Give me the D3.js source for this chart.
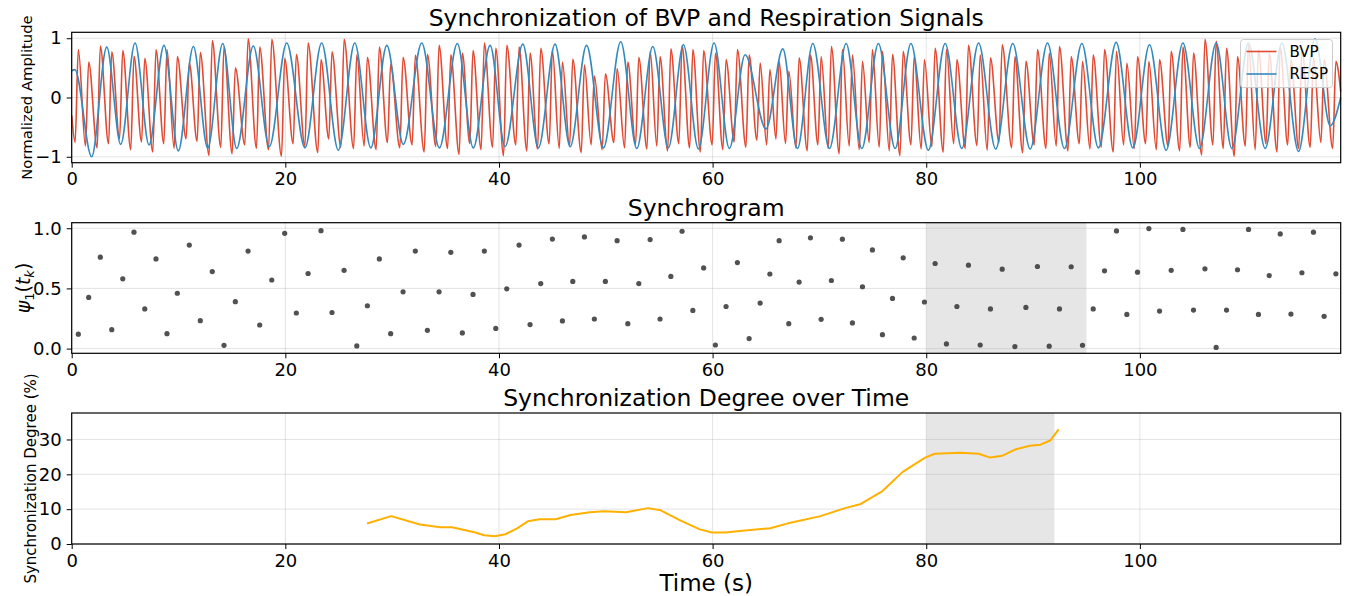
<!DOCTYPE html>
<html lang="en">
<head>
<meta charset="utf-8">
<title>BVP / respiration synchronization</title>
<script src="https://d3js.org/d3.v7.min.js"></script>
<style>
  body { margin: 0; background: #fff; }
  svg { font-family: "DejaVu Sans", sans-serif; }
  .grid line { stroke: #b0b0b0; stroke-opacity: 0.35; stroke-width: 1; }
  .axis path { display: none; }
  .axis line { stroke: #000; }
  .axis text { font-size: 18px; fill: #000; font-family: "DejaVu Sans", sans-serif; }
</style>
</head>
<body>
<svg id="chart" width="1346" height="596"></svg>
<script>
// ---- data ----
var xTicks = [0, 20, 40, 60, 80, 100];
var sigTicks = [-1, 0, 1];
var syncTicks = [0, 0.5, 1];
var degTicks = [0, 10, 20, 30];
var seriesNames = ["BVP", "RESP"];

// BVP beats (peak times = synchrogram instants t_k)
var bvpPeakT = [0.62, 1.59, 2.68, 3.75, 4.78, 5.83, 6.84, 7.89, 8.92, 9.89,
  11.01, 12.04, 13.16, 14.26, 15.32, 16.51, 17.6, 18.73, 19.94, 21.03,
  22.13, 23.34, 24.37, 25.5, 26.69, 27.68, 28.8, 29.86, 31.02, 32.17,
  33.3, 34.39, 35.49, 36.57, 37.57, 38.63, 39.7, 40.73, 41.88, 42.91,
  43.91, 45.0, 45.94, 46.91, 48.0, 48.93, 49.96, 51.06, 52.06, 53.09,
  54.15, 55.08, 56.09, 57.14, 58.15, 59.16, 60.26, 61.26, 62.32, 63.42,
  64.45, 65.36, 66.23, 67.13, 68.1, 69.16, 70.16, 71.12, 72.15, 73.09,
  74.03, 74.96, 75.9, 76.84, 77.84, 78.87, 79.83, 80.83, 81.89, 82.87,
  83.95, 85.05, 86.01, 87.11, 88.3, 89.33, 90.41, 91.51, 92.47, 93.57,
  94.63, 95.63, 96.69, 97.81, 98.78, 99.78, 100.84, 101.84, 102.93, 104.03,
  105.02, 106.09, 107.14, 108.11, 109.14, 110.17, 111.1, 112.11, 113.14, 114.14,
  115.17, 116.25, 117.25, 118.35];
var bvpPeakV = [0.81, 0.60, 0.87, 0.77, 0.79, 0.70, 0.66, 0.81, 0.81, 0.69,
  0.58, 0.76, 0.96, 0.86, 0.50, 0.99, 0.85, 0.98, 0.66, 0.73,
  0.92, 0.64, 0.77, 0.98, 0.72, 0.68, 0.85, 0.56, 0.68, 0.71,
  0.73, 0.88, 0.72, 0.75, 0.79, 0.92, 0.83, 0.88, 0.85, 0.75,
  0.83, 0.80, 0.60, 0.65, 0.55, 0.36, 0.40, 0.49, 0.60, 0.68,
  0.78, 0.69, 0.82, 0.88, 0.81, 0.79, 0.75, 0.64, 0.81, 0.72,
  0.58, 0.47, 0.61, 0.44, 0.67, 0.72, 0.69, 0.86, 0.81, 0.72,
  0.61, 0.81, 0.78, 0.73, 0.78, 0.69, 0.64, 0.83, 0.81, 0.64,
  0.88, 0.72, 0.67, 0.89, 0.69, 0.61, 0.81, 0.75, 0.86, 0.69,
  0.61, 0.72, 0.81, 0.78, 0.58, 0.69, 0.61, 0.64, 0.78, 0.85,
  0.75, 0.98, 0.95, 0.83, 0.69, 0.89, 0.80, 0.75, 0.85, 0.64,
  0.83, 0.67, 0.64, 0.61];
var bvpTroughT = [0.32, 1.29, 2.38, 3.45, 4.48, 5.53, 6.54, 7.59, 8.62, 9.59,
  10.71, 11.74, 12.86, 13.96, 15.02, 16.21, 17.3, 18.43, 19.64, 20.73,
  21.83, 23.04, 24.07, 25.2, 26.39, 27.38, 28.5, 29.56, 30.72, 31.87,
  33.0, 34.09, 35.19, 36.27, 37.27, 38.33, 39.4, 40.43, 41.58, 42.61,
  43.61, 44.7, 45.64, 46.61, 47.7, 48.63, 49.66, 50.76, 51.76, 52.79,
  53.85, 54.78, 55.79, 56.84, 57.85, 58.86, 59.96, 60.96, 62.02, 63.12,
  64.15, 65.06, 65.93, 66.83, 67.8, 68.86, 69.86, 70.82, 71.85, 72.79,
  73.73, 74.66, 75.6, 76.54, 77.54, 78.57, 79.53, 80.53, 81.59, 82.57,
  83.65, 84.75, 85.71, 86.81, 88.0, 89.03, 90.11, 91.21, 92.17, 93.27,
  94.33, 95.33, 96.39, 97.51, 98.48, 99.48, 100.54, 101.54, 102.63, 103.73,
  104.72, 105.79, 106.84, 107.81, 108.84, 109.87, 110.8, 111.81, 112.84, 113.84,
  114.87, 115.95, 116.95, 118.05];
var bvpTroughV = [-0.76, -0.82, -0.85, -0.78, -0.70, -0.88, -0.75, -0.92, -0.78, -0.86,
  -0.70, -0.74, -0.98, -0.84, -0.95, -0.80, -0.86, -0.88, -0.99, -0.78,
  -0.83, -0.93, -0.70, -0.84, -0.86, -0.82, -0.88, -0.76, -0.85, -0.80,
  -0.92, -0.83, -0.86, -0.96, -0.78, -0.88, -0.84, -0.98, -0.80, -0.90,
  -0.87, -0.78, -0.86, -0.82, -0.93, -0.80, -0.88, -0.76, -0.85, -0.79,
  -0.87, -0.82, -0.90, -0.78, -0.85, -0.92, -0.80, -0.88, -0.75, -0.84,
  -0.72, -0.80, -0.70, -0.78, -0.85, -0.90, -0.80, -0.86, -0.95, -0.82,
  -0.88, -0.76, -0.84, -0.90, -0.98, -0.80, -0.87, -0.83, -0.92, -0.78,
  -0.86, -0.81, -0.89, -0.76, -0.85, -0.93, -0.80, -0.86, -0.82, -0.90,
  -0.78, -0.87, -0.84, -0.92, -0.80, -0.86, -0.78, -0.88, -0.82, -0.90,
  -0.84, -0.97, -0.80, -0.86, -0.99, -0.82, -0.88, -0.78, -0.92, -0.80,
  -0.86, -0.84, -0.76, -0.86];
var bvpStart = [0, -0.30];
var bvpEnd = [118.8, 0.10];

// respiration extrema [t, value]
var respPts = [[0, 0.45], [0.3, 0.47], [1.87, -1.0], [3.28, 0.85], [4.59, -0.79],
  [5.93, 0.92], [7.24, -0.80], [8.64, 0.88], [9.98, -0.90], [11.39, 0.86],
  [12.73, -0.85], [14.14, 0.91], [15.45, -0.86], [17.0, 0.87], [18.5, -0.83],
  [20.13, 0.92], [21.84, -0.85], [23.4, 0.92], [24.96, -0.89], [26.5, 0.92],
  [28.0, -0.85], [29.5, 0.88], [31.05, -0.79], [32.77, 0.92], [34.42, -0.85],
  [36.1, 0.91], [37.6, -0.85], [39.17, 0.88], [40.57, -0.83], [42.23, 0.90],
  [43.69, -0.85], [45.25, 0.90], [46.66, -0.83], [48.2, 0.88], [49.78, -0.85],
  [51.4, 0.94], [52.9, -0.86], [54.4, 0.86], [55.86, -0.85], [57.27, 0.89],
  [58.67, -0.87], [60.14, 0.92], [61.57, -0.86], [63.04, 0.72], [65.0, -0.53],
  [66.57, 0.82], [67.94, -0.86], [69.38, 0.91], [70.94, -0.86], [72.5, 0.91],
  [73.97, -0.86], [75.52, 0.91], [77.09, -0.86], [78.56, 0.91], [80.2, -0.89],
  [81.77, 0.91], [83.33, -0.86], [84.9, 0.92], [86.5, -0.87], [88.1, 0.91],
  [89.73, -0.87], [91.35, 0.92], [92.94, -0.86], [94.57, 0.91], [96.12, -0.85],
  [97.78, 0.93], [99.34, -0.85], [100.9, 0.89], [102.46, -0.89], [104.03, 0.92],
  [105.58, -0.86], [107.14, 0.92], [108.61, -0.86], [110.17, 0.92], [111.73, -0.86],
  [113.3, 0.92], [114.85, -0.91], [116.4, 0.99], [117.82, -0.48], [118.8, 0.0]];

// synchrogram psi_1(t_k) at each beat
var syncPsi = [0.12, 0.425, 0.76, 0.157, 0.58, 0.967, 0.33, 0.745, 0.124, 0.46,
  0.86, 0.232, 0.64, 0.027, 0.39, 0.81, 0.196, 0.57, 0.958, 0.296,
  0.624, 0.98, 0.30, 0.65, 0.022, 0.356, 0.745, 0.124, 0.472, 0.81,
  0.152, 0.472, 0.80, 0.13, 0.45, 0.81, 0.168, 0.497, 0.86, 0.20,
  0.54, 0.91, 0.23, 0.558, 0.928, 0.246, 0.558, 0.897, 0.207, 0.54,
  0.906, 0.246, 0.60, 0.975, 0.317, 0.67, 0.03, 0.35, 0.715, 0.083,
  0.378, 0.62, 0.897, 0.207, 0.553, 0.92, 0.243, 0.566, 0.909, 0.213,
  0.514, 0.82, 0.116, 0.417, 0.754, 0.088, 0.387, 0.707, 0.039, 0.35,
  0.693, 0.03, 0.33, 0.66, 0.017, 0.342, 0.682, 0.02, 0.33, 0.68,
  0.028, 0.33, 0.646, 0.978, 0.284, 0.635, 0.997, 0.312, 0.65, 0.99,
  0.32, 0.663, 0.01, 0.32, 0.655, 0.99, 0.284, 0.607, 0.953, 0.287,
  0.63, 0.967, 0.268, 0.621];

// synchronization degree (%)
var degT = [27.65, 29.9, 32.6, 34.5, 35.6, 37.8, 38.6, 39.6, 40.6, 41.7,
  42.7, 43.8, 45.3, 46.7, 48.5, 49.8, 51.9, 53.96, 55.1, 56.96,
  58.8, 59.95, 61.2, 63.0, 65.4, 67.4, 70.1, 72.4, 73.8, 75.9,
  77.8, 79.9, 80.8, 83.2, 84.9, 86.0, 87.1, 88.3, 89.7, 90.7,
  91.6, 92.4];
var degV = [5.9, 8.0, 5.6, 4.8, 4.8, 3.3, 2.5, 2.2, 2.8, 4.5,
  6.5, 7.1, 7.1, 8.3, 9.1, 9.4, 9.1, 10.3, 9.7, 6.8,
  4.2, 3.3, 3.3, 3.9, 4.5, 6.2, 8.0, 10.3, 11.4, 15.2,
  20.7, 24.8, 25.9, 26.2, 25.9, 24.8, 25.3, 27.1, 28.2, 28.5,
  29.7, 32.9];

var syncSpan = [80, 95];
var degSpan = [80, 92];

// ---- layout ----
var svg = d3.select("#chart");
var left = 71.7, right = 1340.7;
var tMax = 118.8;
var x = d3.scaleLinear().domain([0, tMax]).range([left, right]);

var panels = [
  {top: 32.3, bottom: 162.7, dom: [-1.1, 1.1], ticks: sigTicks,
   fmt: function(d) { return d < 0 ? "\u2212" + Math.abs(d) : d; }},
  {top: 222.7, bottom: 353.3, dom: [-0.039, 1.046], ticks: syncTicks, fmt: d3.format(".1f")},
  {top: 413, bottom: 544, dom: [0, 37.6], ticks: degTicks, fmt: d3.format("d")}
];
panels.forEach(function(p) {
  p.y = d3.scaleLinear().domain(p.dom).range([p.bottom, p.top]);
  p.g = svg.append("g");
});

function drawFrame(p) {
  // grid sits over the shaded span but under the data
  var grid = p.g.append("g").attr("class", "grid");
  grid.selectAll("line.v").data(xTicks).join("line").attr("class", "v")
    .attr("x1", function(d) { return x(d); }).attr("x2", function(d) { return x(d); })
    .attr("y1", p.top).attr("y2", p.bottom);
  grid.selectAll("line.h").data(p.ticks).join("line").attr("class", "h")
    .attr("x1", left).attr("x2", right)
    .attr("y1", function(d) { return p.y(d); }).attr("y2", function(d) { return p.y(d); });
}

function drawAxes(p) {
  p.g.append("g").attr("class", "axis")
    .attr("transform", "translate(0," + p.bottom + ")")
    .call(d3.axisBottom(x).tickValues(xTicks).tickSize(5).tickPadding(5));
  p.g.append("g").attr("class", "axis")
    .attr("transform", "translate(" + left + ",0)")
    .call(d3.axisLeft(p.y).tickValues(p.ticks).tickFormat(p.fmt).tickSize(5).tickPadding(5));
  p.g.append("rect")
    .attr("x", left).attr("y", p.top)
    .attr("width", right - left).attr("height", p.bottom - p.top)
    .attr("fill", "none").attr("stroke", "#000").attr("stroke-width", 1.2);
}

function span(p, s) {
  p.g.append("rect")
    .attr("x", x(s[0])).attr("y", p.top)
    .attr("width", x(s[1]) - x(s[0])).attr("height", p.bottom - p.top)
    .attr("fill", "#808080").attr("fill-opacity", 0.2);
}

// ---- panel 1: signals ----
var p1 = panels[0];
drawFrame(p1);
var bvpPts = [bvpStart];
for (var i = 0; i < bvpPeakT.length; i++) {
  bvpPts.push([bvpTroughT[i], bvpTroughV[i]]);
  bvpPts.push([bvpPeakT[i], bvpPeakV[i]]);
}
bvpPts.push(bvpEnd);

var sigLine = d3.line()
  .x(function(d) { return x(d[0]); })
  .y(function(d) { return p1.y(d[1]); })
  .curve(d3.curveMonotoneX);

var colors = {BVP: "#E24A33", RESP: "#348ABD"};
p1.g.append("path").datum(bvpPts).attr("d", sigLine)
  .attr("fill", "none").attr("stroke", colors.BVP).attr("stroke-width", 1.6);
p1.g.append("path").datum(respPts).attr("d", sigLine)
  .attr("fill", "none").attr("stroke", colors.RESP).attr("stroke-width", 1.6);
drawAxes(p1);

// legend
var lg = p1.g.append("g").attr("transform", "translate(1240.5,39.5)");
lg.append("rect").attr("width", 92).attr("height", 48).attr("rx", 3)
  .attr("fill", "#fff").attr("fill-opacity", 0.8).attr("stroke", "#ccc");
seriesNames.forEach(function(n, k) {
  var yy = 12 + k * 22.5;
  lg.append("line").attr("x1", 6).attr("x2", 36).attr("y1", yy).attr("y2", yy)
    .attr("stroke", colors[n]).attr("stroke-width", 1.6);
  lg.append("text").attr("x", 49).attr("y", yy + 5.3).attr("font-size", 15).text(n);
});

// ---- panel 2: synchrogram ----
var p2 = panels[1];
span(p2, syncSpan);
drawFrame(p2);
p2.g.append("g").selectAll("circle").data(syncPsi).join("circle")
  .attr("cx", function(d, i) { return x(bvpPeakT[i]); })
  .attr("cy", function(d) { return p2.y(d); })
  .attr("r", 2.6).attr("fill", "#333").attr("fill-opacity", 0.85);
drawAxes(p2);

// ---- panel 3: degree ----
var p3 = panels[2];
span(p3, degSpan);
drawFrame(p3);
p3.g.append("path").datum(degT.map(function(t, i) { return [t, degV[i]]; }))
  .attr("d", d3.line().x(function(d) { return x(d[0]); }).y(function(d) { return p3.y(d[1]); }))
  .attr("fill", "none").attr("stroke", "#FFB000").attr("stroke-width", 2)
  .attr("stroke-linejoin", "round");
drawAxes(p3);

// ---- titles & labels ----
var mid = (left + right) / 2;
var titles = [["Synchronization of BVP and Respiration Signals", 25.5],
  ["Synchrogram", 215.5], ["Synchronization Degree over Time", 406]];
titles.forEach(function(t) {
  svg.append("text").attr("x", mid).attr("y", t[1]).attr("text-anchor", "middle")
    .attr("font-size", 23.5).text(t[0]);
});
svg.append("text").attr("x", mid).attr("y", 591).attr("text-anchor", "middle")
  .attr("font-size", 23).text("Time (s)");

svg.append("text").attr("transform", "translate(32," + ((p1.top + p1.bottom) / 2) + ") rotate(-90)")
  .attr("text-anchor", "middle").attr("font-size", 14.8).text("Normalized Amplitude");
svg.append("text").attr("transform", "translate(35.5," + ((p3.top + p3.bottom) / 2) + ") rotate(-90)")
  .attr("text-anchor", "middle").attr("font-size", 15).text("Synchronization Degree (%)");

var psi = svg.append("text")
  .attr("transform", "translate(30," + ((p2.top + p2.bottom) / 2) + ") rotate(-90)")
  .attr("text-anchor", "middle").attr("font-size", 19);
psi.append("tspan").attr("font-style", "italic").text("\u03C8");
psi.append("tspan").attr("font-size", 13).attr("dy", 4).text("1");
psi.append("tspan").attr("dy", -4).text("(");
psi.append("tspan").attr("font-style", "italic").text("t");
psi.append("tspan").attr("font-style", "italic").attr("font-size", 13).attr("dy", 4).text("k");
psi.append("tspan").attr("dy", -4).text(")");
</script>
</body>
</html>
